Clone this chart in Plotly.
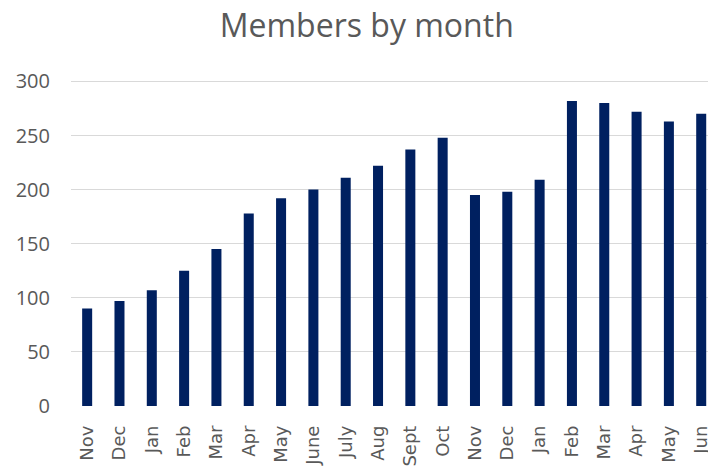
import plotly.graph_objects as go

months = ["Nov", "Dec", "Jan", "Feb", "Mar", "Apr", "May", "June", "July", "Aug",
          "Sept", "Oct", "Nov", "Dec", "Jan", "Feb", "Mar", "Apr", "May", "Jun"]
members = [90, 97, 107, 125, 145, 178, 192, 200, 211, 222,
           237, 248, 195, 198, 209, 282, 280, 272, 263, 270]
y_ticks = [0, 50, 100, 150, 200, 250, 300]

x_idx = list(range(len(months)))

fig = go.Figure(go.Bar(
    x=x_idx, y=members,
    marker=dict(color="#002060", line=dict(width=0)),
    width=0.31,
))

fig.update_layout(
    width=708, height=466,
    margin=dict(l=71, r=0, t=76, b=60, autoexpand=False),
    paper_bgcolor="white", plot_bgcolor="white",
    showlegend=False,
    title=dict(text="Members by month", x=0.518, xanchor="center",
               y=1 - 26 / 466, yanchor="middle", yref="container",
               font=dict(family="Open Sans", size=32, color="#595959")),
    font=dict(family="Open Sans", color="#595959"),
)
fig.update_xaxes(
    range=[-0.5, 19.21], tickmode="array", tickvals=x_idx, ticktext=months,
    tickangle=-90, showgrid=False, zeroline=False, showline=False,
    ticks="", ticklabelstandoff=15, ticklabeloverflow="allow",
    tickfont=dict(family="DejaVu Sans", size=18, color="#595959"),
    automargin=False,
)
fig.update_yaxes(
    range=[0, 305], tickmode="array", tickvals=y_ticks,
    showgrid=True, gridcolor="#d9d9d9", gridwidth=1.3, zeroline=False,
    showline=False, ticks="", ticklabelstandoff=20,
    tickfont=dict(family="Open Sans", size=20, color="#595959"),
    automargin=False,
)

fig.write_html("out.html", config={"displayModeBar": False},
               post_script="document.body.style.margin='0';document.body.style.overflow='hidden';")
